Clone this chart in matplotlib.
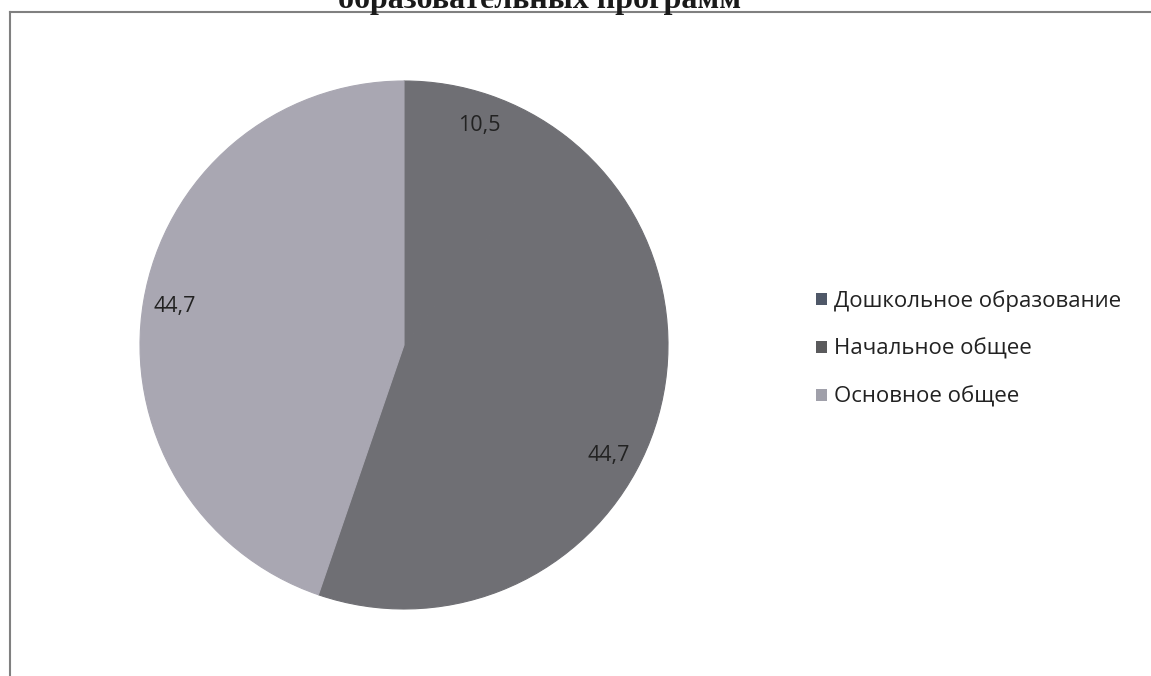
import matplotlib.pyplot as plt
from matplotlib.patches import Patch
from matplotlib.lines import Line2D

# Data
categories = ['Дошкольное образование', 'Начальное общее', 'Основное общее']
values = [10.5, 44.7, 44.7]
labels = ['10,5', '44,7', '44,7']
title = 'образовательных программ'

slice_colors = ['#6f6f74', '#6f6f74', '#a9a7b2']
legend_colors = ['#4f5868', '#5a5a5c', '#a0a0aa']

W, H = 1151, 676
fig = plt.figure(figsize=(W / 100, H / 100), dpi=100)
ax = fig.add_axes([0, 0, 1, 1])

wedges, texts = ax.pie(values, labels=labels, colors=slice_colors,
                       startangle=90, counterclock=False,
                       center=(404, H - 345), radius=264,
                       labeldistance=0.88,
                       textprops=dict(fontsize=15.5, color='#222222',
                                      family='Open Sans', ha='center', va='center'))
# hide seams between slices of the same colour
for w, c in zip(wedges, slice_colors):
    w.set_edgecolor(c)
    w.set_linewidth(0.8)
for t in texts:
    t.set_horizontalalignment('center')

ax.set_xlim(0, W)
ax.set_ylim(0, H)
ax.set_aspect('equal')
ax.axis('off')

# chart border (scan shows only top and left edges)
ax.add_line(Line2D([10, W], [H - 12, H - 12], color='#808080', linewidth=1.5))
ax.add_line(Line2D([10, 10], [0, H - 12], color='#808080', linewidth=1.5))

# title, cut off at the top edge like the scan
ax.text(540, H - 8, title, ha='center', va='baseline', fontsize=23,
        fontweight='bold', family='Liberation Serif', color='#1a1a1a')

handles = [Patch(facecolor=c, edgecolor='none') for c in legend_colors]
leg = fig.legend(handles, categories, loc='upper left',
                 bbox_to_anchor=(796 / W, 1 - 270 / H), frameon=False,
                 prop=dict(family='Open Sans', size=16),
                 handlelength=0.5, handleheight=0.5, handletextpad=0.3,
                 labelspacing=1.2)
for t in leg.get_texts():
    t.set_color('#222222')

fig.savefig('out.png', dpi=100)
